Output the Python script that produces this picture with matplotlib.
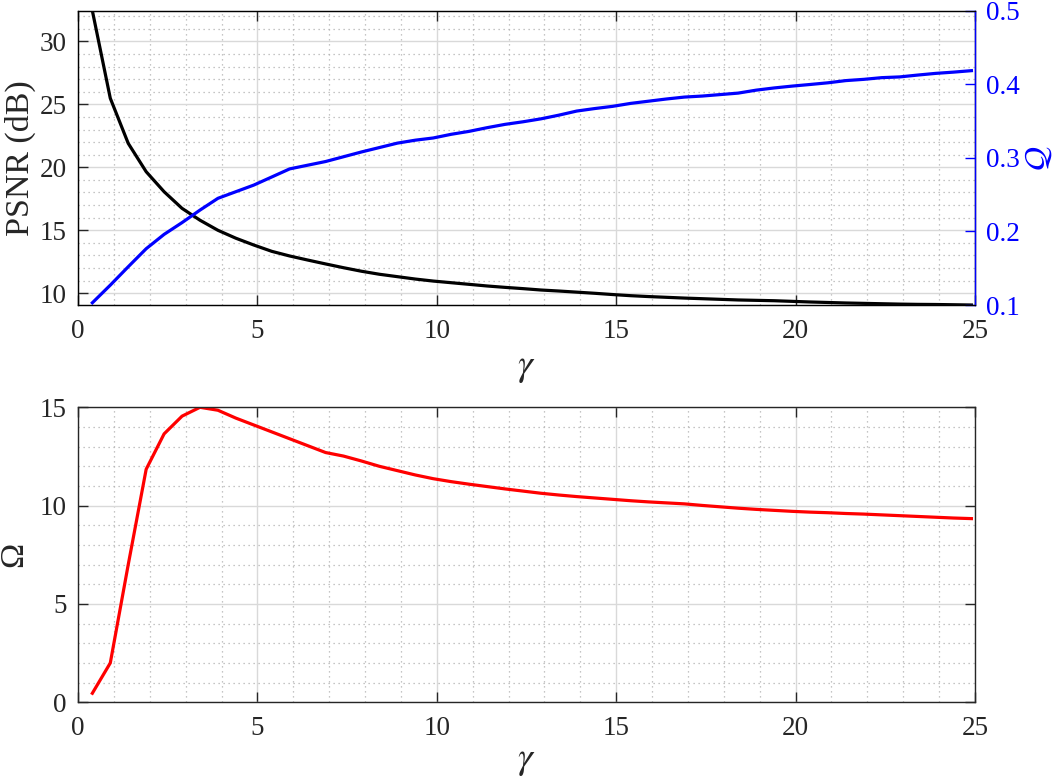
import numpy as np
import matplotlib
matplotlib.use("Agg")
import matplotlib.pyplot as plt
from matplotlib.ticker import MultipleLocator

plt.rcParams['font.family'] = ['Liberation Serif', 'DejaVu Serif']
plt.rcParams['mathtext.fontset'] = 'stix'
plt.rcParams['font.size'] = 19.5

# gamma values (0.4 : 0.5 : 24.9)
gamma = [0.4, 0.9, 1.4, 1.9, 2.4, 2.9, 3.4, 3.9, 4.4, 4.9,
         5.4, 5.9, 6.4, 6.9, 7.4, 7.9, 8.4, 8.9, 9.4, 9.9,
         10.4, 10.9, 11.4, 11.9, 12.4, 12.9, 13.4, 13.9, 14.4, 14.9,
         15.4, 15.9, 16.4, 16.9, 17.4, 17.9, 18.4, 18.9, 19.4, 19.9,
         20.4, 20.9, 21.4, 21.9, 22.4, 22.9, 23.4, 23.9, 24.4, 24.9]

psnr = [32.43, 25.48, 21.9, 19.65, 18.06, 16.74, 15.8, 15.0, 14.37, 13.83,
        13.33, 12.96, 12.64, 12.33, 12.03, 11.75, 11.51, 11.32, 11.13, 10.97,
        10.84, 10.71, 10.58, 10.47, 10.37, 10.26, 10.18, 10.09, 10.0, 9.9,
        9.81, 9.74, 9.68, 9.62, 9.57, 9.52, 9.47, 9.44, 9.41, 9.36,
        9.31, 9.27, 9.23, 9.2, 9.17, 9.14, 9.12, 9.11, 9.09, 9.07]

Q = [0.103, 0.127, 0.152, 0.1765, 0.196, 0.212, 0.229, 0.245, 0.254, 0.263,
     0.274, 0.285, 0.290, 0.295, 0.3015, 0.308, 0.314, 0.320, 0.324, 0.327,
     0.332, 0.336, 0.341, 0.3455, 0.349, 0.353, 0.358, 0.3636, 0.367, 0.370,
     0.374, 0.377, 0.380, 0.3826, 0.384, 0.386, 0.388, 0.392, 0.395, 0.3975,
     0.3997, 0.402, 0.405, 0.4067, 0.409, 0.410, 0.4125, 0.4148, 0.4165, 0.4185]

omega = [0.46, 2.0, 7.0, 11.85, 13.65, 14.55, 15.0, 14.85, 14.45, 14.1,
         13.75, 13.4, 13.05, 12.7, 12.52, 12.27, 12.0, 11.78, 11.56, 11.37,
         11.22, 11.09, 10.97, 10.85, 10.74, 10.63, 10.54, 10.46, 10.39, 10.32,
         10.25, 10.19, 10.14, 10.09, 10.01, 9.94, 9.87, 9.81, 9.76, 9.71,
         9.67, 9.64, 9.6, 9.57, 9.53, 9.49, 9.45, 9.41, 9.37, 9.34]

txt = '#262626'
lab_fs = 24.5
W, H = 1059, 779
fig = plt.figure(figsize=(W / 100, H / 100), dpi=100)


def ax_rect(l, t, r, b):
    return [l / W, 1 - b / H, (r - l) / W, (b - t) / H]


def style(ax, right_ticks=True):
    ax.set_xlim(0, 25)
    ax.xaxis.set_major_locator(MultipleLocator(5))
    ax.xaxis.set_minor_locator(MultipleLocator(1))
    ax.yaxis.set_minor_locator(MultipleLocator(1))
    ax.tick_params(which='major', direction='in', length=7, width=1,
                   color=txt, labelcolor=txt, pad=10,
                   top=True, right=right_ticks)
    ax.tick_params(axis='y', which='major', pad=8)
    ax.tick_params(which='minor', length=0, top=True, right=right_ticks)
    ax.grid(which='major', color='#d9d9d9', lw=1, ls='-')
    ax.grid(which='minor', color='#b3b3b3', lw=0.9, ls=(0, (1, 3)))
    ax.set_axisbelow(True)
    for s in ax.spines.values():
        s.set_color(txt)
        s.set_linewidth(1)


# top panel
ax1 = fig.add_axes(ax_rect(78, 10.7, 975, 305))
style(ax1, right_ticks=False)
ax1.plot(gamma, psnr, color='black', lw=2.3)
ax1.set_ylim(9.07, 32.43)
ax1.yaxis.set_major_locator(MultipleLocator(5))
ax1.set_xlabel(r'$\gamma$', fontsize=27, color=txt, labelpad=5)
ax1.set_ylabel('PSNR (dB)', color=txt, fontsize=lab_fs, labelpad=3)

ax2 = ax1.twinx()
ax2.plot(gamma, Q, color='blue', lw=2.3)
ax2.set_ylim(0.1, 0.5)
ax2.yaxis.set_major_locator(MultipleLocator(0.1))
ax2.tick_params(axis='y', direction='in', length=7, width=1, color='blue',
                labelcolor='blue', pad=8)
ax2.spines['right'].set_color('blue')
ax2.spines['right'].set_linewidth(1)
ax2.set_ylabel(r'$\mathcal{Q}$', color='blue', fontsize=24, rotation=90,
               labelpad=3)

# bottom panel
ax3 = fig.add_axes(ax_rect(78, 407.3, 975, 702.3))
style(ax3)
ax3.plot(gamma, omega, color='red', lw=2.3)
ax3.set_ylim(0, 15)
ax3.yaxis.set_major_locator(MultipleLocator(5))
ax3.set_xlabel(r'$\gamma$', fontsize=27, color=txt, labelpad=2)
ax3.set_ylabel('Ω', color=txt, fontsize=lab_fs, labelpad=8)

fig.savefig('out.png', dpi=100)
